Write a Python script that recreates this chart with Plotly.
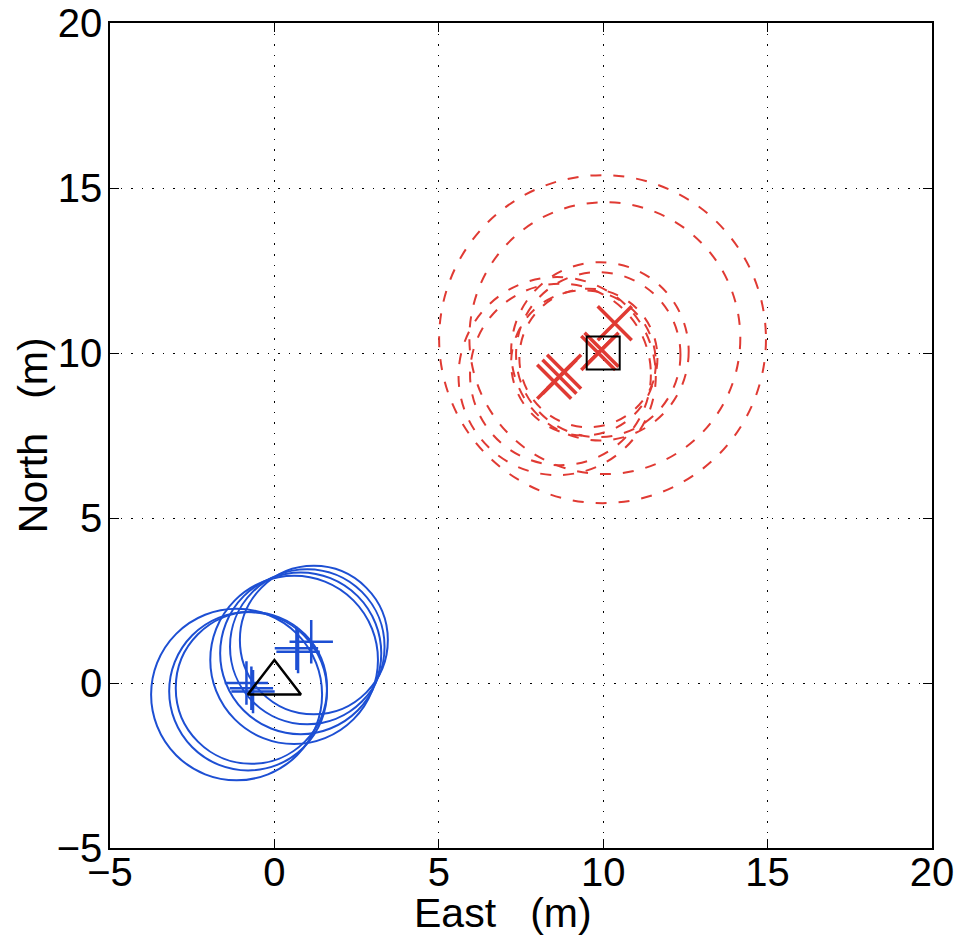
import plotly.graph_objects as go

# ---------------- data ----------------
# blue (solid) circles: centre east, centre north, radius
blue_cx = [-1.15, -0.80, -0.70, 1.20, 1.00, 0.80, 0.60]
blue_cy = [-0.35, -0.25, -0.15, 1.30, 1.10, 0.90, 0.70]
blue_r = [2.60, 2.40, 2.30, 2.25, 2.35, 2.45, 2.55]

# blue "+" position estimates
blue_px = [-0.85, -0.70, -0.65, 0.67, 0.72, 1.12]
blue_py = [0.00, -0.16, -0.26, 1.05, 0.95, 1.25]

# red (dashed) circles
red_cx = [9.98, 10.05, 9.90, 9.85, 8.70, 8.60, 9.40, 9.55]
red_cy = [10.42, 10.45, 10.05, 9.95, 9.35, 9.30, 9.70, 9.85]
red_r = [4.97, 4.12, 2.70, 2.50, 2.75, 3.00, 2.20, 2.10]

# red "x" position estimates
red_px = [9.95, 9.85, 10.35, 8.67, 8.81, 8.51]
red_py = [10.10, 10.00, 10.90, 9.28, 9.43, 9.13]

# true positions
tri_x, tri_y = [0.0], [0.0]
sq_x, sq_y = [10.0], [10.0]

x_ticks = [-5, 0, 5, 10, 15, 20]
y_ticks = [-5, 0, 5, 10, 15, 20]

x_title = "East\u00a0\u00a0\u00a0(m)"
y_title = "North\u00a0\u00a0\u00a0(m)"

BLUE = "#1d4fd3"
RED = "#e03a33"
FONT = "Liberation Sans, Arial"

fig = go.Figure()

shapes = []
for cx, cy, r in zip(blue_cx, blue_cy, blue_r):
    shapes.append(dict(type="circle", xref="x", yref="y", layer="between",
                       x0=cx - r, x1=cx + r, y0=cy - r, y1=cy + r,
                       line=dict(color=BLUE, width=2)))
for cx, cy, r in zip(red_cx, red_cy, red_r):
    shapes.append(dict(type="circle", xref="x", yref="y", layer="between",
                       x0=cx - r, x1=cx + r, y0=cy - r, y1=cy + r,
                       line=dict(color=RED, width=2, dash="11px,12px")))

fig.add_trace(go.Scatter(x=blue_px, y=blue_py, mode="markers",
                         marker=dict(symbol="cross-thin", size=31,
                                     line=dict(color=BLUE, width=2.5)),
                         showlegend=False))
fig.add_trace(go.Scatter(x=red_px, y=red_py, mode="markers",
                         marker=dict(symbol="x-thin", size=34,
                                     line=dict(color=RED, width=3.5)),
                         showlegend=False))
fig.add_trace(go.Scatter(x=tri_x, y=tri_y, mode="markers",
                         marker=dict(symbol="triangle-up-open", size=46,
                                     color="black",
                                     line=dict(color="black", width=2.5)),
                         showlegend=False))
fig.add_trace(go.Scatter(x=sq_x, y=sq_y, mode="markers",
                         marker=dict(symbol="square-open", size=33,
                                     color="black",
                                     line=dict(color="black", width=2)),
                         showlegend=False))

axis_common = dict(
    range=[-5, 20], tickmode="array", automargin=False,
    showgrid=True, gridcolor="black", gridwidth=1, griddash="1.5px,9px",
    zeroline=False, showline=True, linecolor="black", linewidth=1.5,
    mirror="ticks", ticks="inside", ticklen=9, tickcolor="black",
    tickfont=dict(family=FONT, size=40, color="black"),
)

fig.update_layout(
    width=961, height=944,
    margin=dict(l=110, r=29, t=23, b=96),
    paper_bgcolor="white", plot_bgcolor="white",
    shapes=shapes,
    xaxis=dict(**axis_common, tickvals=x_ticks, ticklabelstandoff=-12),
    yaxis=dict(**axis_common, tickvals=y_ticks, ticklabelstandoff=-2),
    annotations=[
        dict(text=x_title, xref="paper", yref="paper", x=0.478, y=-0.079,
             xanchor="center", yanchor="middle", showarrow=False,
             font=dict(family=FONT, size=41, color="black")),
        dict(text=y_title, xref="paper", yref="paper", x=-0.094, y=0.5,
             xanchor="center", yanchor="middle", showarrow=False, textangle=-90,
             font=dict(family=FONT, size=41, color="black")),
    ],
)

fig.write_html("out.html", config={"displayModeBar": False},
               post_script="document.body.style.margin='0px';")
